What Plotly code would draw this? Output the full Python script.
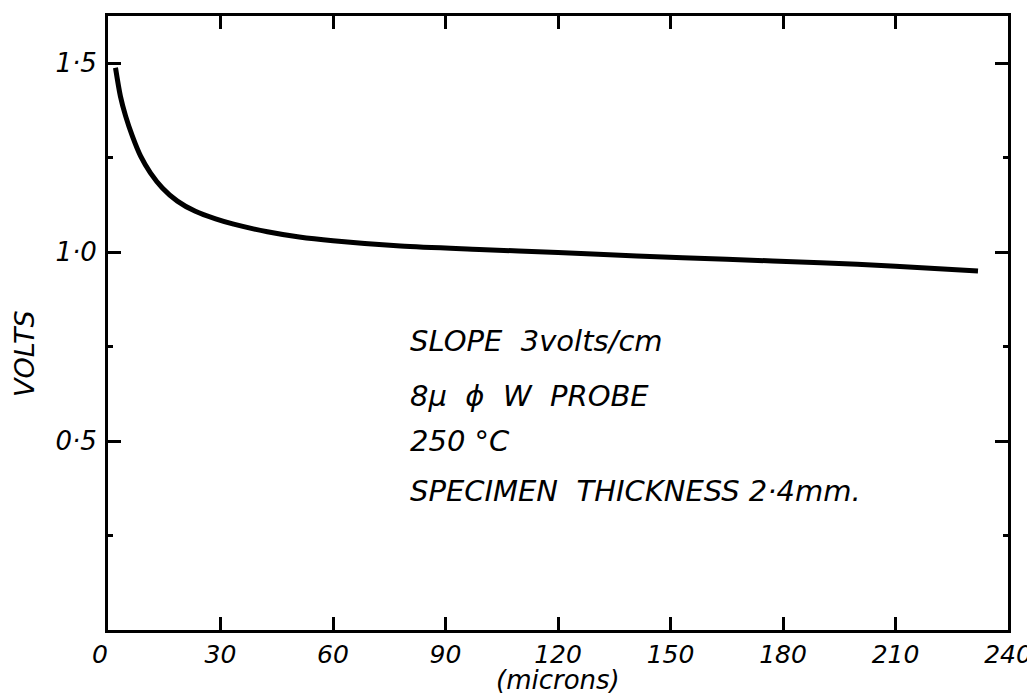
import plotly.graph_objects as go

# data
microns = [2.0, 3.3, 4.7, 6.5, 8.7, 11.3, 14.5, 18.5, 23.3, 28.7, 33.5, 42.5, 51,
           60, 78, 99, 120, 141, 165, 190, 210, 232]
volts = [1.488, 1.413, 1.360, 1.307, 1.254, 1.210, 1.170, 1.135, 1.108, 1.088, 1.074,
         1.054, 1.040, 1.030, 1.016, 1.007, 0.999, 0.990, 0.981, 0.972, 0.963, 0.950]

x_tickvals = [0, 30, 60, 90, 120, 150, 180, 210, 240]
x_ticktext = ["0\u00a0\u00a0", "30", "60", "90", "120", "150", "180", "210", "240"]
y_tickvals = [0.5, 1.0, 1.5]
y_ticktext = ["0\u00b75", "1\u00b70", "1\u00b75"]

notes = ["SLOPE\u00a0\u00a03volts/cm",
         "8\u03bc\u00a0\u00a0\u03d5\u00a0\u00a0W\u00a0\u00a0PROBE",
         "250\u00a0\u00b0C",
         "SPECIMEN\u00a0\u00a0THICKNESS\u00a02\u00b74mm."]
note_y = [0.471, 0.381, 0.308, 0.226]

FONT = "DejaVu Sans"
xtick_fnt = dict(family=FONT, size=25, color="black", style="italic")
ytick_fnt = dict(family=FONT, size=26, color="black", style="italic")
note_fnt = dict(family=FONT, size=29, color="black", style="italic")
title_fnt = dict(family=FONT, size=27, color="black", style="italic")
xtitle_fnt = dict(family=FONT, size=26, color="black", style="italic")

fig = go.Figure()
fig.add_trace(go.Scatter(x=microns, y=volts, mode="lines",
                         line=dict(color="black", width=5, shape="spline", smoothing=0.8),
                         showlegend=False, hoverinfo="skip"))

fig.update_xaxes(range=[0, 240], showgrid=False, zeroline=False, automargin=False,
                 showline=True, linecolor="black", linewidth=3, mirror="ticks",
                 tickmode="array", tickvals=x_tickvals, ticktext=x_ticktext,
                 ticks="inside", ticklen=13, tickwidth=3, tickcolor="black",
                 tickfont=xtick_fnt, ticklabelstandoff=0)
fig.update_yaxes(range=[0, 1.625], showgrid=False, zeroline=False, automargin=False,
                 showline=True, linecolor="black", linewidth=3, mirror="ticks",
                 tickmode="array", tickvals=y_tickvals, ticktext=y_ticktext,
                 ticks="inside", ticklen=13, tickwidth=3, tickcolor="black",
                 tickfont=ytick_fnt, ticklabelstandoff=3,
                 minor=dict(tickmode="array", tickvals=[0.25, 0.75, 1.25],
                            ticks="inside", ticklen=5, tickwidth=3, tickcolor="black"))

anns = []
for t, yy in zip(notes, note_y):
    anns.append(dict(text=t, x=0.333, y=yy, xref="paper", yref="paper",
                     xanchor="left", yanchor="middle", showarrow=False, font=note_fnt))
anns.append(dict(text="VOLTS", x=-0.092, y=0.45, xref="paper", yref="paper",
                 textangle=-90, showarrow=False, font=title_fnt,
                 xanchor="center", yanchor="middle"))
anns.append(dict(text="(microns)", x=0.5, y=-0.082, xref="paper", yref="paper",
                 showarrow=False, font=xtitle_fnt, xanchor="center", yanchor="middle"))

# page body has an 8px margin; size the figure so the plot box lands where the reference has it
fig.update_layout(width=1027, height=687,
                  margin=dict(l=100, r=27, t=8, b=65),
                  paper_bgcolor="white", plot_bgcolor="white",
                  annotations=anns)

fig.write_html("out.html")
